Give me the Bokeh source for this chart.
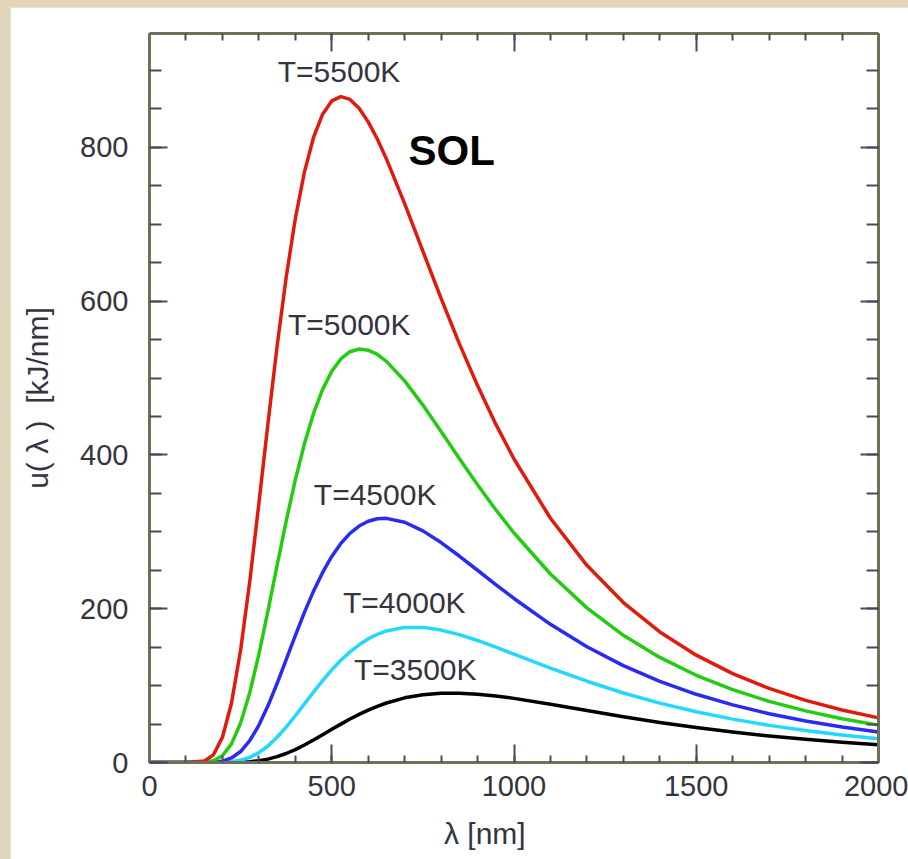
from bokeh.plotting import figure
from bokeh.models import Range1d, LinearAxis, SingleIntervalTicker, Label, CustomJSTickFormatter
from bokeh.layouts import column
from bokeh.embed import file_html
from bokeh.resources import INLINE

# wavelength [nm]
wavelength = [0, 100, 150, 175, 200, 225, 250, 275, 300, 325,
              350, 375, 400, 425, 450, 475, 500, 525, 550, 575,
              600, 625, 650, 700, 750, 800, 850, 900, 950, 1000,
              1100, 1200, 1300, 1400, 1500, 1600, 1700, 1800, 1900, 2000]

# u(lambda) [kJ/nm]
u_5500 = [0, 0, 1.8, 9.8, 32.6, 77.4, 146.3, 235.2, 336.4, 440.9,
          541.1, 631.0, 707.1, 767.7, 812.8, 843.1, 860.3, 866.0, 862.3, 850.7,
          833.1, 810.8, 784.9, 726.7, 664.9, 603.4, 544.7, 490.1, 440.0, 394.7,
          317.6, 256.4, 208.0, 169.8, 139.6, 115.6, 96.3, 80.8, 68.2, 58.0]
u_5000 = [0, 0, 0.3, 2.2, 8.8, 24.2, 51.4, 90.8, 140.6, 197.1,
          256.2, 313.9, 367.4, 414.4, 453.9, 485.2, 508.7, 524.8, 534.2, 537.7,
          536.2, 530.7, 521.7, 496.3, 464.8, 430.4, 395.4, 361.2, 328.7, 298.4,
          245.1, 201.1, 165.4, 136.7, 113.4, 94.7, 79.5, 67.1, 57.0, 48.6]
u_4500 = [0, 0, 0, 0.4, 1.8, 5.9, 14.3, 28.4, 48.4, 73.7,
          102.7, 133.8, 165.1, 195.2, 222.8, 247.2, 268.0, 284.9, 298.0, 307.5,
          313.7, 316.9, 317.5, 312.4, 301.2, 286.0, 268.5, 250.0, 231.4, 213.3,
          179.7, 150.5, 126.0, 105.6, 88.7, 74.9, 63.4, 54.0, 46.1, 39.6]
u_4000 = [0, 0, 0, 0, 0.2, 1.0, 2.9, 6.6, 12.8, 21.5,
          32.8, 46.1, 60.8, 76.2, 91.6, 106.5, 120.4, 132.9, 143.9, 153.1,
          160.7, 166.7, 171.1, 175.7, 175.7, 172.2, 166.3, 158.7, 150.1, 141.0,
          122.8, 105.7, 90.4, 77.2, 65.9, 56.4, 48.3, 41.5, 35.8, 31.0]
u_3500 = [0, 0, 0, 0, 0, 0.1, 0.4, 1.0, 2.3, 4.4,
          7.6, 11.7, 16.8, 22.7, 29.2, 36.1, 43.1, 49.9, 56.5, 62.6,
          68.2, 73.1, 77.4, 84.1, 88.2, 90.1, 90.2, 88.9, 86.5, 83.4,
          75.8, 67.6, 59.6, 52.1, 45.5, 39.6, 34.5, 30.1, 26.2, 23.0]

curve_labels = ["T=5500K", "T=5000K", "T=4500K", "T=4000K", "T=3500K"]
label_x = [520, 548, 619, 699, 729]
label_y = [898, 570, 348, 208, 121]

x_ticks = [0, 500, 1000, 1500, 2000]
y_ticks = [0, 200, 400, 600, 800]

FONT = "Liberation Sans"
AXIS_COLOR = "#6f6f5a"
TICK_COLOR = "#4a4a5c"
TEXT_COLOR = "#34343f"
BEIGE = "#e2d5ba"
NB = "\u00a0"

p = figure(frame_width=729, frame_height=729,
           min_border_left=139, min_border_right=30,
           min_border_top=26, min_border_bottom=97,
           x_range=Range1d(0, 2000), y_range=Range1d(0, 948),
           output_backend="svg", toolbar_location=None,
           background_fill_color="white", border_fill_color="white")
p.grid.visible = False
p.outline_line_color = None
p.margin = (7, 0, 0, 10)

xt = SingleIntervalTicker(interval=500, num_minor_ticks=5)
yt = SingleIntervalTicker(interval=200, num_minor_ticks=4)

top = LinearAxis(formatter=CustomJSTickFormatter(code="return ''"))
right = LinearAxis(formatter=CustomJSTickFormatter(code="return ''"))
p.add_layout(top, "above")
p.add_layout(right, "right")

for ax in list(p.xaxis) + list(p.yaxis):
    ax.axis_line_color = AXIS_COLOR
    ax.axis_line_width = 3
    ax.major_tick_in = 18
    ax.major_tick_out = 0
    ax.major_tick_line_color = TICK_COLOR
    ax.major_tick_line_width = 2
    ax.minor_tick_out = 0
    ax.minor_tick_line_color = TICK_COLOR
    ax.minor_tick_line_width = 2
    ax.major_label_text_font = FONT
    ax.major_label_text_font_size = "29px"
    ax.major_label_text_color = TEXT_COLOR
    ax.axis_label_text_font = FONT
    ax.axis_label_text_font_size = "30px"
    ax.axis_label_text_font_style = "normal"
    ax.axis_label_text_color = TEXT_COLOR
for ax in p.xaxis:
    ax.ticker = xt
    ax.minor_tick_in = 7
    ax.major_label_standoff = 13
for ax in p.yaxis:
    ax.ticker = yt
    ax.minor_tick_in = 12
    ax.major_label_standoff = 21

bottom = p.below[0]
bottom.axis_label = "λ [nm]" + NB * 7
bottom.axis_label_standoff = 18
left = p.left[0]
left.axis_label = "u( λ )" + NB + " [kJ/nm]"
left.axis_label_standoff = 23

series = [(u_3500, "#000000"), (u_4000, "#22d8ff"), (u_4500, "#2a2af5"),
          (u_5000, "#22cc10"), (u_5500, "#e01a0c")]
for vals, col in series:
    p.line(wavelength, vals, line_color=col, line_width=3.5, line_join="round")

for t, lx, ly in zip(curve_labels, label_x, label_y):
    p.add_layout(Label(x=lx, y=ly, text=t, text_font=FONT, text_font_size="30px",
                       text_color=TEXT_COLOR, text_align="center", text_baseline="middle"))

p.add_layout(Label(x=829, y=796, text="SOL", text_font=FONT, text_font_size="42px",
                   text_font_style="bold", text_color="black",
                   text_align="center", text_baseline="middle"))

layout = column(p, styles={"background-color": BEIGE})

open("out.html", "w").write(file_html(layout, INLINE))
